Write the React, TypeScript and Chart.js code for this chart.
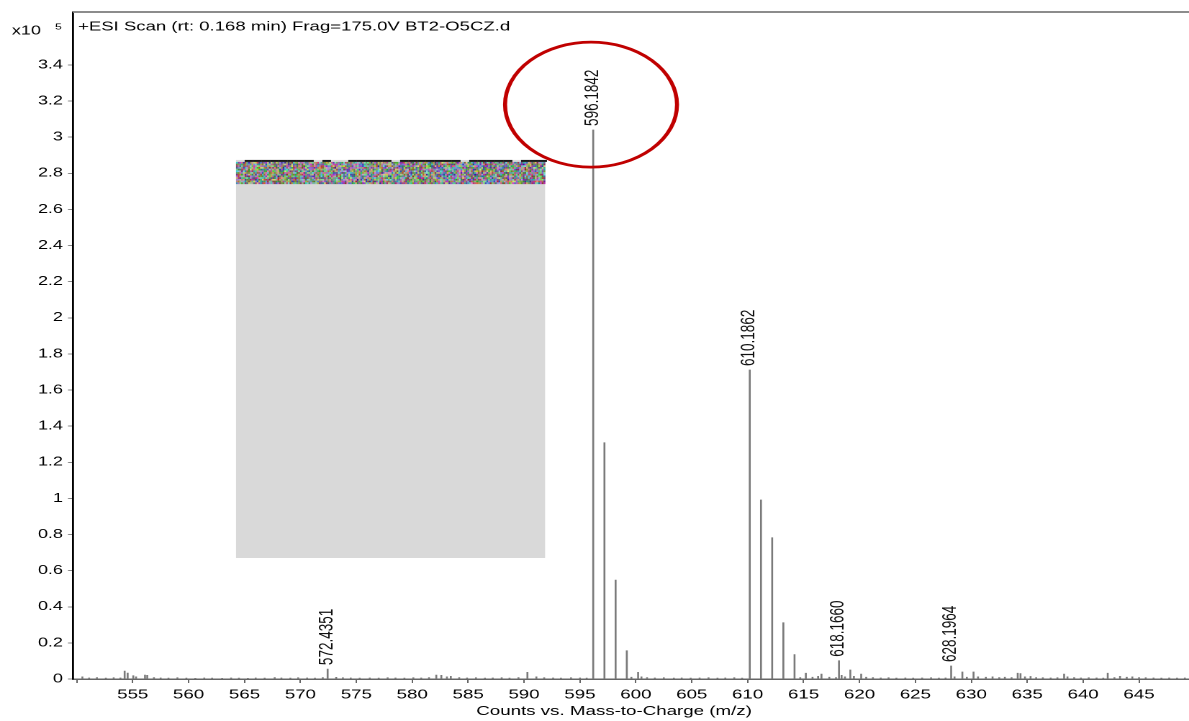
import React, { useEffect, useRef } from 'react';
import { Chart, registerables } from 'chart.js';

Chart.register(...registerables);

// ---------- text ----------
const TITLE = '+ESI Scan (rt: 0.168 min) Frag=175.0V BT2-O5CZ.d';
const X_AXIS_TITLE = 'Counts vs. Mass-to-Charge (m/z)';
const Y_MULTIPLIER_BASE = 'x10';
const Y_MULTIPLIER_EXP = '5';

// ---------- axes ----------
const X_TICKS = [550, 555, 560, 565, 570, 575, 580, 585, 590, 595, 600, 605, 610, 615, 620, 625, 630, 635, 640, 645];
const Y_TICKS = [0, 0.2, 0.4, 0.6, 0.8, 1, 1.2, 1.4, 1.6, 1.8, 2, 2.2, 2.4, 2.6, 2.8, 3, 3.2, 3.4];
const X_MIN = 549.66;
const X_MAX = 649.47;
const Y_MAX = 3.693;
const X_TITLE_CENTER = 598.05; // m/z under which the axis title is centred

// ---------- data (counts x10^5) ----------
const labelledMz = [572.4351, 596.1842, 610.1862, 618.166, 628.1964];
const labelledIntensity = [0.055, 3.04, 1.711, 0.101, 0.072];
const labelledText = ['572.4351', '596.1842', '610.1862', '618.1660', '628.1964'];

const isotopeMz = [597.19, 598.19, 599.19, 600.2, 611.19, 612.19, 613.19, 614.19, 615.2, 616.6, 619.18, 620.15, 629.2, 630.2, 634.15, 634.4, 638.3, 642.2, 590.3, 554.28, 554.55, 556.1, 556.3, 582.15, 582.6];
const isotopeIntensity = [1.308, 0.548, 0.157, 0.037, 0.991, 0.782, 0.312, 0.135, 0.032, 0.027, 0.05, 0.027, 0.039, 0.039, 0.032, 0.03, 0.027, 0.032, 0.037, 0.044, 0.033, 0.022, 0.02, 0.022, 0.02];

const baselineMz = [550.5, 551.1, 551.8, 552.6, 553.3, 553.9, 555.05, 555.3, 556.9, 557.5, 558.2, 559.0, 559.8, 560.6, 561.4, 562.1, 563.0, 563.8, 564.5, 565.3, 566.0, 566.8, 567.7, 568.3, 569.1, 569.8, 570.6, 571.3, 572.0, 573.2, 573.8, 574.5, 575.3, 576.2, 577.0, 577.8, 578.5, 579.3, 580.1, 580.8, 581.5, 583.1, 583.45, 584.2, 584.9, 585.7, 586.5, 587.2, 588.0, 588.7, 589.5, 591.1, 591.8, 592.6, 593.3, 594.2, 595.0, 595.6, 599.6, 600.5, 601.0, 601.7, 602.5, 603.4, 604.1, 604.9, 605.7, 606.5, 607.3, 608.0, 608.8, 609.5, 614.7, 615.8, 616.3, 617.3, 617.9, 618.4, 618.7, 619.5, 620.6, 621.2, 621.9, 622.6, 623.3, 624.1, 624.8, 625.6, 626.4, 627.1, 627.7, 628.5, 629.6, 630.6, 631.3, 631.9, 632.5, 633.0, 633.6, 634.8, 635.3, 635.8, 636.4, 637.1, 637.7, 638.6, 639.2, 639.8, 640.5, 641.2, 641.8, 642.8, 643.3, 643.9, 644.4, 645.0, 645.6, 646.3, 647.0, 647.7, 648.4, 649.1];
const baselineIntensity = [0.012, 0.006, 0.008, 0.005, 0.007, 0.006, 0.018, 0.012, 0.008, 0.006, 0.005, 0.007, 0.005, 0.004, 0.006, 0.005, 0.004, 0.006, 0.005, 0.004, 0.006, 0.005, 0.008, 0.006, 0.005, 0.007, 0.006, 0.005, 0.008, 0.009, 0.007, 0.006, 0.005, 0.006, 0.005, 0.007, 0.006, 0.005, 0.007, 0.006, 0.008, 0.012, 0.015, 0.008, 0.006, 0.007, 0.005, 0.006, 0.007, 0.005, 0.008, 0.012, 0.007, 0.006, 0.005, 0.007, 0.006, 0.005, 0.01, 0.012, 0.008, 0.006, 0.007, 0.005, 0.006, 0.005, 0.006, 0.007, 0.005, 0.006, 0.007, 0.005, 0.008, 0.01, 0.015, 0.01, 0.008, 0.02, 0.012, 0.015, 0.01, 0.008, 0.006, 0.007, 0.005, 0.006, 0.005, 0.006, 0.007, 0.005, 0.006, 0.012, 0.01, 0.012, 0.01, 0.012, 0.008, 0.01, 0.008, 0.012, 0.014, 0.008, 0.007, 0.006, 0.007, 0.012, 0.008, 0.006, 0.007, 0.006, 0.005, 0.008, 0.015, 0.01, 0.012, 0.008, 0.007, 0.006, 0.005, 0.006, 0.005, 0.006];

// ---------- annotations (data coordinates) ----------
const BOX_X0 = 564.24;
const BOX_X1 = 591.88;
const BOX_Y_TOP = 2.874;
const BOX_Y_BOTTOM = 0.67;
const BOX_STRIP_BOTTOM = 2.746;
const ELLIPSE_CX = 595.99;
const ELLIPSE_CY = 3.18;
const ELLIPSE_RX = 7.69;
const ELLIPSE_RY = 0.346;

// ---------- layout ----------
const PAGE_W = 1189;
const PAGE_H = 721;
const CANVAS_W = 826;
const STRETCH = PAGE_W / CANVAS_W;
const FONT = "'Liberation Sans', Arial, Helvetica, sans-serif";
const BAR_COLOR = '#7a7a7a';

const zip = (xs: number[], ys: number[]) => xs.map((x, i) => ({ x, y: ys[i] }));

const overlayPlugin = {
  id: 'overlay',
  afterDraw(chart: any) {
    const { ctx, chartArea, scales } = chart;
    const xs = scales.x;
    const ys = scales.y;
    ctx.save();

    // top frame line
    ctx.strokeStyle = '#8c8c8c';
    ctx.lineWidth = 2;
    ctx.beginPath();
    ctx.moveTo(chartArea.left, chartArea.top);
    ctx.lineTo(chart.width, chartArea.top);
    ctx.stroke();

    // title
    ctx.fillStyle = '#000';
    ctx.font = `12.9px ${FONT}`;
    ctx.textAlign = 'left';
    ctx.textBaseline = 'alphabetic';
    ctx.fillText(TITLE, chartArea.left + 3.5, 30.5);

    // x10^5
    ctx.font = `12.5px ${FONT}`;
    ctx.fillText(Y_MULTIPLIER_BASE, 8.3, 34.3);
    ctx.font = `8.5px ${FONT}`;
    ctx.fillText(Y_MULTIPLIER_EXP, 38.2, 29.3);

    // x-axis title
    ctx.font = `13px ${FONT}`;
    ctx.textAlign = 'center';
    ctx.textBaseline = 'middle';
    ctx.fillText(X_AXIS_TITLE, xs.getPixelForValue(X_TITLE_CENTER), 711.5);

    // peak labels
    const meta = chart.getDatasetMeta(0);
    ctx.font = `13.5px ${FONT}`;
    ctx.fillStyle = '#111';
    meta.data.forEach((el: any, i: number) => {
      ctx.save();
      ctx.translate(el.x - 0.4, el.y - 4);
      ctx.rotate(-Math.PI / 2);
      ctx.textAlign = 'left';
      ctx.textBaseline = 'middle';
      ctx.fillText(labelledText[i], 0, 0);
      ctx.restore();
    });

    // grey redaction box with noisy strip
    const bx0 = xs.getPixelForValue(BOX_X0);
    const bx1 = xs.getPixelForValue(BOX_X1);
    const by0 = ys.getPixelForValue(BOX_Y_TOP);
    const by1 = ys.getPixelForValue(BOX_Y_BOTTOM);
    const sb = ys.getPixelForValue(BOX_STRIP_BOTTOM);
    ctx.fillStyle = '#d9d9d9';
    ctx.fillRect(bx0, by0, bx1 - bx0, by1 - by0);
    let seed = 987654321;
    const hash = () => {
      seed = (seed * 1103515245 + 12345) % 2147483648;
      return seed / 2147483648;
    };
    const cw = 1.2;
    const chh = 1.7;
    for (let yy = by0 + 2; yy < sb; yy += chh) {
      for (let xx = bx0; xx < bx1; xx += cw) {
        const h = Math.floor(hash() * 360);
        const s = 25 + Math.floor(hash() * 45);
        const l = 35 + Math.floor(hash() * 35);
        ctx.fillStyle = `hsl(${h},${s}%,${l}%)`;
        ctx.fillRect(xx, yy, cw + 0.1, chh + 0.1);
      }
    }
    // dark top line with gaps
    ctx.fillStyle = '#1a1a1a';
    for (let xx = bx0; xx < bx1; xx += 6) {
      if (hash() > 0.25) ctx.fillRect(xx, by0, 6, 2);
    }

    // red ellipse
    const cx = xs.getPixelForValue(ELLIPSE_CX);
    const cy = ys.getPixelForValue(ELLIPSE_CY);
    const rx = Math.abs(xs.getPixelForValue(ELLIPSE_CX + ELLIPSE_RX) - cx);
    const ry = Math.abs(ys.getPixelForValue(ELLIPSE_CY + ELLIPSE_RY) - cy);
    ctx.strokeStyle = '#c00000';
    ctx.lineWidth = 2.8;
    ctx.beginPath();
    ctx.ellipse(cx, cy, rx, ry, 0, 0, Math.PI * 2);
    ctx.stroke();

    ctx.restore();
  },
};

export default function App() {
  const ref = useRef<HTMLCanvasElement>(null);

  useEffect(() => {
    document.body.style.margin = '0';
    const barDs = (data: { x: number; y: number }[]) => ({
      type: 'bar' as const,
      data,
      backgroundColor: BAR_COLOR,
      borderWidth: 0,
      barThickness: 0.65,
      grouped: false,
    });
    const chart = new Chart(ref.current as HTMLCanvasElement, {
      type: 'bar',
      data: {
        datasets: [
          barDs(zip(labelledMz, labelledIntensity)),
          barDs(zip(isotopeMz, isotopeIntensity)),
          barDs(zip(baselineMz, baselineIntensity)),
        ] as any,
      },
      options: {
        animation: false,
        responsive: false,
        devicePixelRatio: 2,
        layout: { padding: { top: 12, left: 0, right: 0, bottom: 0 } },
        plugins: { legend: { display: false }, tooltip: { enabled: false } },
        scales: {
          x: {
            type: 'linear',
            min: X_MIN,
            max: X_MAX,
            offset: false,
            afterBuildTicks: (s: any) => {
              s.ticks = X_TICKS.map((v) => ({ value: v }));
            },
            afterFit: (s: any) => {
              s.height = 42;
            },
            ticks: {
              autoSkip: false,
              maxRotation: 0,
              color: '#000',
              padding: 4,
              font: { family: FONT, size: 13 },
              callback: (v: any) => (v === 550 ? '' : String(v)),
            },
            grid: { drawOnChartArea: false, offset: false, tickLength: 4, color: '#666', lineWidth: 1 },
            border: { color: '#666', width: 1.5 },
            title: { display: false },
          },
          y: {
            type: 'linear',
            min: 0,
            max: Y_MAX,
            afterBuildTicks: (s: any) => {
              s.ticks = Y_TICKS.map((v) => ({ value: v }));
            },
            afterFit: (s: any) => {
              s.width = 50.7;
            },
            ticks: {
              autoSkip: false,
              color: '#000',
              padding: 3.5,
              font: { family: FONT, size: 12.5 },
              callback: (v: any) => Number(v).toFixed(1).replace(/\.0$/, ''),
            },
            grid: { drawOnChartArea: false, tickLength: 3.5, color: '#888', lineWidth: 1 },
            border: { color: '#000', width: 1.4 },
          },
        },
      },
      plugins: [overlayPlugin],
    } as any);
    return () => chart.destroy();
  }, []);

  return (
    <div style={{ position: 'fixed', left: 0, top: 0, width: PAGE_W, height: PAGE_H, overflow: 'hidden', background: '#fff' }}>
      <div style={{ width: CANVAS_W, height: PAGE_H, transform: `scaleX(${STRETCH})`, transformOrigin: '0 0' }}>
        <canvas ref={ref} width={CANVAS_W} height={PAGE_H} style={{ display: 'block' }} />
      </div>
    </div>
  );
}
